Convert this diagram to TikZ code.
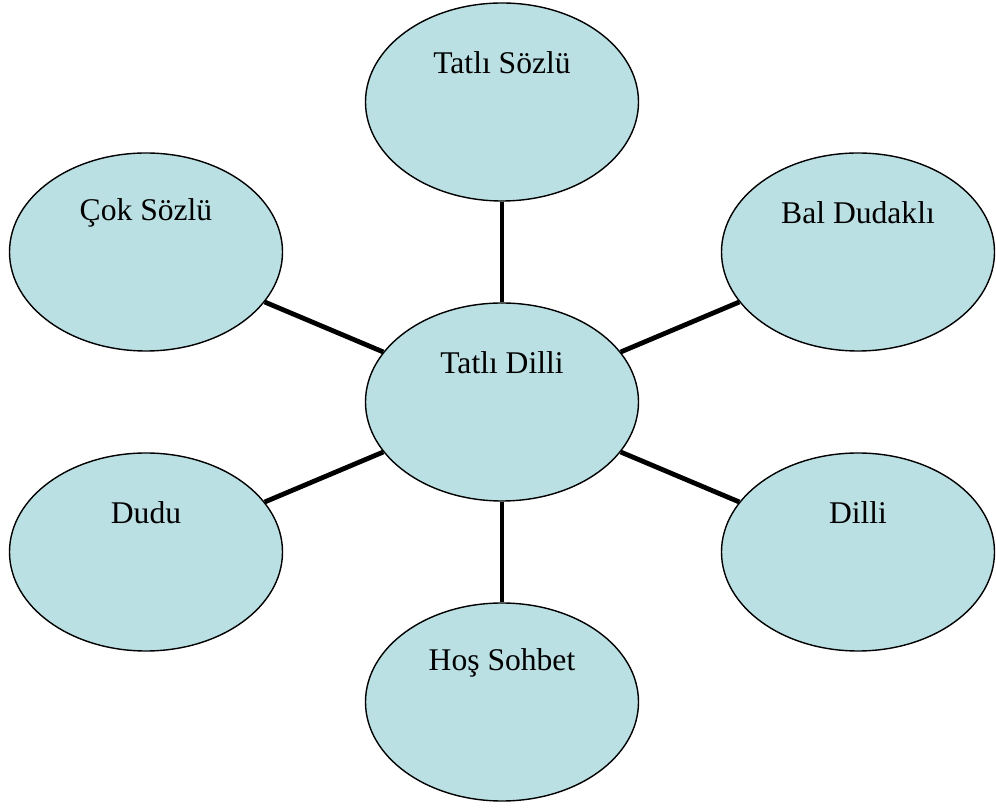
\documentclass[tikz,border=0pt]{standalone}
\usepackage{fontspec}
\setmainfont{Liberation Serif}
\usetikzlibrary{shapes.geometric}
\definecolor{bubblefill}{RGB}{187,224,227}
\begin{document}
\begin{tikzpicture}[x=1pt,y=1pt,
  bubble/.style={ellipse,draw=black,line width=1.4pt,fill=bubblefill,
    minimum width=273pt,minimum height=198pt,inner sep=0pt},
  caption/.style={anchor=base,yshift=39.5pt,font=\fontsize{31.6}{38}\selectfont},
  spoke/.style={line width=4.8pt}]
\useasboundingbox (0,0) rectangle (996,808);
\node[bubble,label={[caption]center:Tatlı Dilli}] (hub) at (502,406) {};
\node[bubble,label={[caption]center:Tatlı Sözlü}] (top) at (502,706) {};
\node[bubble,label={[caption]center:Çok Sözlü}] (cok) at (146,556) {};
\node[bubble,label={[caption]center:Bal Dudaklı}] (bal) at (858,556) {};
\node[bubble,label={[caption]center:Dudu}] (dudu) at (146,256) {};
\node[bubble,label={[caption]center:Dilli}] (dilli) at (858,256) {};
\node[bubble,label={[caption]center:Hoş Sohbet}] (hos) at (502,106) {};
\foreach \n in {top,cok,bal,dudu,dilli,hos}
{
    \draw[spoke] (hub) -- (\n);
}
\end{tikzpicture}
\end{document}
